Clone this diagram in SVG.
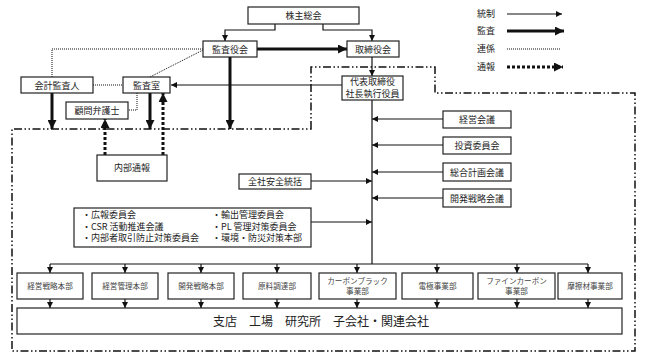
<svg xmlns="http://www.w3.org/2000/svg" width="648" height="362" viewBox="0 0 648 362">
<defs>
<style>
.box{fill:#fff;stroke:#222;stroke-width:1.2}
.t{font-family:"Noto Sans CJK JP","Liberation Serif",serif;font-size:9px;fill:#222;text-anchor:middle}
.tl{font-family:"Noto Sans CJK JP","Liberation Serif",serif;font-size:9px;fill:#222}
.td{font-family:"Noto Sans CJK JP","Liberation Sans",sans-serif;font-size:7.6px;fill:#444;text-anchor:middle}
.tb{font-family:"Noto Sans CJK JP","Liberation Sans",sans-serif;font-size:12px;fill:#222}
.thin{fill:none;stroke:#111;stroke-width:1.2}
.thick{fill:none;stroke:#111;stroke-width:3}
.dot{fill:none;stroke:#111;stroke-width:1;stroke-dasharray:1 1}
.report{fill:none;stroke:#111;stroke-width:3;stroke-dasharray:3 2}
.bound{fill:none;stroke:#111;stroke-width:1.5;stroke-dasharray:8 2.5 1.5 2.5 1.5 2.5}
</style>
<marker id="ah" markerUnits="userSpaceOnUse" markerWidth="6" markerHeight="6" refX="6" refY="3" orient="auto"><path d="M0,0L6,3L0,6z" fill="#111"/></marker>
<marker id="ahT" markerUnits="userSpaceOnUse" markerWidth="9" markerHeight="9" refX="9" refY="4.5" orient="auto"><path d="M0,0L9,4.5L0,9z" fill="#111"/></marker>
</defs>
<rect width="648" height="362" fill="#fff"/>

<g id="boundary">
<path class="bound" d="M311,129 L311,67 L435,67 L435,93 L635,93 L635,351 L12,351 L12,129 Z"/>
</g>

<g id="connectors">
<path class="thin" d="M275,24 V30 H225 V41" marker-end="url(#ah)"/>
<path class="thin" d="M323,24 V30 H372 V41" marker-end="url(#ah)"/>
<path class="thick" d="M257,49 H347" marker-end="url(#ahT)"/>
<path class="thin" d="M372,57 V76" marker-end="url(#ah)"/>
<path class="thick" d="M230,57 V129" marker-end="url(#ahT)"/>
<path class="thin" d="M342,85 H171" marker-end="url(#ah)"/>
<path class="dot" d="M52,77 V49 H203"/>
<path class="dot" d="M150,77 L203,50"/>
<path class="dot" d="M93,85 H123"/>
<path class="dot" d="M137,93 V110 H128"/>
<path class="thick" d="M52,93 V129" marker-end="url(#ahT)"/>
<path class="thick" d="M150,93 V129" marker-end="url(#ahT)"/>
<path class="report" d="M105,155 V119" marker-end="url(#ahT)"/>
<path class="report" d="M163,155 V93" marker-end="url(#ahT)"/>
<path class="thin" d="M372,100 V264"/>
<path class="thin" d="M443,119 H372" marker-end="url(#ah)"/>
<path class="thin" d="M443,145 H372" marker-end="url(#ah)"/>
<path class="thin" d="M443,172 H372" marker-end="url(#ah)"/>
<path class="thin" d="M443,198 H372" marker-end="url(#ah)"/>
<path class="thin" d="M311,181 H372" marker-end="url(#ah)"/>
<path class="thin" d="M311,222 H372" marker-end="url(#ah)"/>
<path class="thin" d="M50,264 H588"/>
<path class="thin" d="M50,264 V273" marker-end="url(#ah)"/>
<path class="thin" d="M125,264 V273" marker-end="url(#ah)"/>
<path class="thin" d="M201,264 V273" marker-end="url(#ah)"/>
<path class="thin" d="M277,264 V273" marker-end="url(#ah)"/>
<path class="thin" d="M357,264 V273" marker-end="url(#ah)"/>
<path class="thin" d="M437,264 V273" marker-end="url(#ah)"/>
<path class="thin" d="M517,264 V273" marker-end="url(#ah)"/>
<path class="thin" d="M588,264 V273" marker-end="url(#ah)"/>
<path class="thin" d="M50,299 V308" marker-end="url(#ah)"/>
<path class="thin" d="M125,299 V308" marker-end="url(#ah)"/>
<path class="thin" d="M201,299 V308" marker-end="url(#ah)"/>
<path class="thin" d="M277,299 V308" marker-end="url(#ah)"/>
<path class="thin" d="M357,299 V308" marker-end="url(#ah)"/>
<path class="thin" d="M437,299 V308" marker-end="url(#ah)"/>
<path class="thin" d="M517,299 V308" marker-end="url(#ah)"/>
<path class="thin" d="M588,299 V308" marker-end="url(#ah)"/>
</g>

<g id="legend">
<text class="tl" x="477" y="17" font-size="8">統制</text>
<path class="thin" d="M507,14 H562" marker-end="url(#ah)"/>
<text class="tl" x="477" y="34" font-size="8">監査</text>
<path class="thick" d="M507,31 H564" marker-end="url(#ahT)"/>
<text class="tl" x="477" y="52" font-size="8">連係</text>
<path class="dot" d="M507,49 H561"/>
<text class="tl" x="477" y="70" font-size="8">通報</text>
<path class="report" d="M507,67 H563" marker-end="url(#ahT)"/>
</g>

<g id="n-kabunushi"><rect class="box" x="248" y="7" width="111" height="17"/><text class="t" x="303.5" y="19">株主総会</text></g>
<g id="n-kansayakukai"><rect class="box" x="203" y="41" width="54" height="16"/><text class="t" x="230" y="52.5">監査役会</text></g>
<g id="n-torishimariyakukai"><rect class="box" x="347" y="41" width="52" height="16"/><text class="t" x="373" y="52.5">取締役会</text></g>
<g id="n-daihyo"><rect class="box" x="342" y="76" width="61" height="24"/><text class="t" x="372.5" y="85" font-size="8.5">代表取締役</text><text class="t" x="372.5" y="97" font-size="8.5">社長執行役員</text></g>
<g id="n-kaikei"><rect class="box" x="21" y="77" width="72" height="16"/><text class="t" x="57" y="88.5">会計監査人</text></g>
<g id="n-kansashitsu"><rect class="box" x="123" y="77" width="47" height="16"/><text class="t" x="146.5" y="88.5">監査室</text></g>
<g id="n-komon"><rect class="box" x="66" y="102" width="62" height="17"/><text class="t" x="97" y="114">顧問弁護士</text></g>
<g id="n-naibu"><rect class="box" x="97" y="155" width="70" height="26"/><text class="t" x="132" y="171">内部通報</text></g>
<g id="n-keiei"><rect class="box" x="443" y="111" width="68" height="17"/><text class="t" x="477" y="123">経営会議</text></g>
<g id="n-toshi"><rect class="box" x="443" y="137" width="68" height="17"/><text class="t" x="477" y="149">投資委員会</text></g>
<g id="n-sogo"><rect class="box" x="443" y="163" width="68" height="18"/><text class="t" x="477" y="175.5">総合計画会議</text></g>
<g id="n-kaihatsu"><rect class="box" x="443" y="189" width="68" height="18"/><text class="t" x="477" y="201.5">開発戦略会議</text></g>
<g id="n-anzen"><rect class="box" x="239" y="174" width="72" height="15"/><text class="t" x="275" y="184.5">全社安全統括</text></g>
<g id="n-iinkai"><rect class="box" x="74" y="208" width="237" height="39"/>
<text class="tl" x="82" y="218">・広報委員会</text>
<text class="tl" x="82" y="229.5">・CSR 活動推進会議</text>
<text class="tl" x="82" y="241">・内部者取引防止対策委員会</text>
<text class="tl" x="212" y="218">・輸出管理委員会</text>
<text class="tl" x="212" y="229.5">・PL 管理対策委員会</text>
<text class="tl" x="212" y="241">・環境・防災対策本部</text>
</g>
<g id="d1"><rect class="box" x="17" y="273" width="66" height="26"/><text class="td" x="50" y="289">経営戦略本部</text></g>
<g id="d2"><rect class="box" x="92" y="273" width="66" height="26"/><text class="td" x="125" y="289">経営管理本部</text></g>
<g id="d3"><rect class="box" x="168" y="273" width="66" height="26"/><text class="td" x="201" y="289">開発戦略本部</text></g>
<g id="d4"><rect class="box" x="243" y="273" width="68" height="26"/><text class="td" x="277" y="289">原料調達部</text></g>
<g id="d5"><rect class="box" x="319" y="273" width="77" height="26"/><text class="td" x="357.5" y="283.5">カーボンブラック</text><text class="td" x="357.5" y="294">事業部</text></g>
<g id="d6"><rect class="box" x="402" y="273" width="71" height="26"/><text class="td" x="437.5" y="289">電極事業部</text></g>
<g id="d7"><rect class="box" x="478" y="273" width="77" height="26"/><text class="td" x="516.5" y="283.5">ファインカーボン</text><text class="td" x="516.5" y="294">事業部</text></g>
<g id="d8"><rect class="box" x="558" y="273" width="64" height="26"/><text class="td" x="590" y="289">摩擦材事業部</text></g>
<g id="n-bottom"><rect class="box" x="17" y="308" width="605" height="26"/><text class="tb" x="213" y="325.5">支店　工場　研究所　子会社・関連会社</text></g>
</svg>
